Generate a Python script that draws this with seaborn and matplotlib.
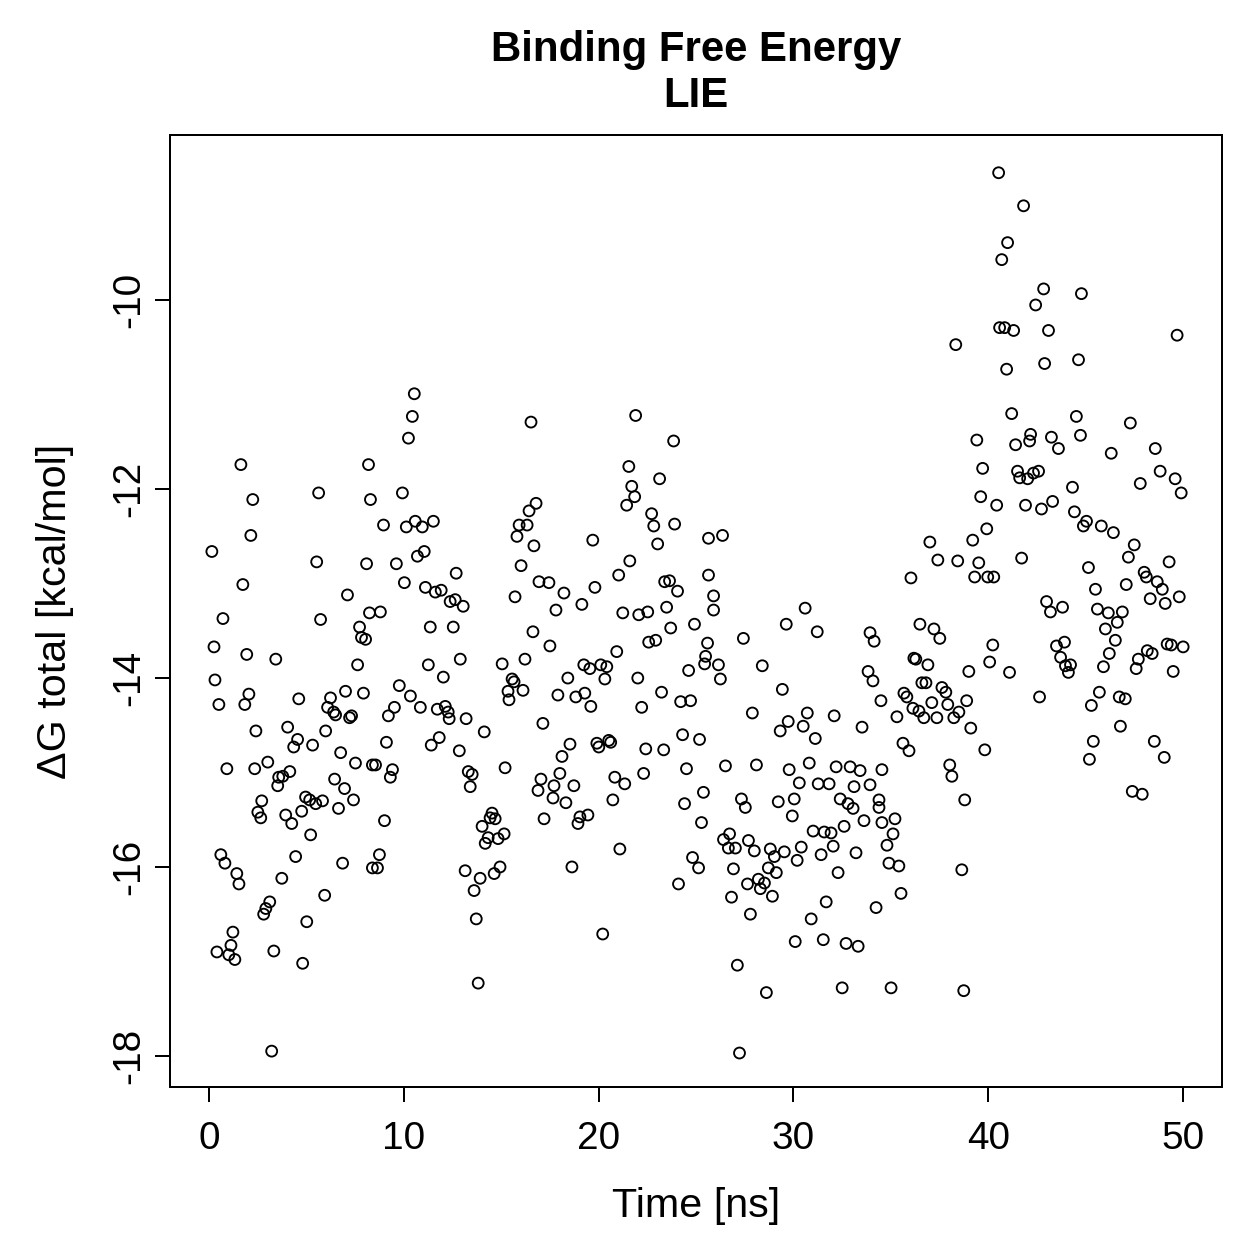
import matplotlib
matplotlib.use("Agg")
import matplotlib.pyplot as plt
import numpy as np
import pandas as pd
import seaborn as sns

# values (time in ns, dG in kcal/mol)
time_ns = [
    0.15, 0.26, 0.31, 0.51, 0.72, 1.64, 1.74, 1.84, 1.94, 2.05, 2.15, 2.25, 3.43, 4.61, 5.53, 5.63,
    5.73, 6.09, 6.24, 6.40, 6.50, 7.01, 7.11, 7.63, 7.73, 7.83, 7.93, 8.04, 8.09, 8.19, 8.24, 8.29,
    7.22, 7.32, 2.41, 4.04, 4.55, 4.35, 5.32, 5.99, 6.76, 7.52, 8.39, 0.92, 2.35, 3.02, 4.15, 3.79,
    3.58, 3.53, 6.45, 6.96, 7.42, 6.65, 2.71, 2.51, 2.66, 3.94, 4.25, 4.76, 4.96, 5.17, 5.48, 5.83,
    5.22, 0.61, 0.82, 4.45, 6.86, 8.39, 1.43, 1.54, 3.74, 5.94, 3.12, 2.92, 2.81, 5.02, 1.23, 1.13,
    0.41, 1.02, 1.33, 3.33, 4.81, 3.22,
    10.54, 10.44, 10.24, 9.93, 8.96, 10.13, 10.59, 10.95, 11.52, 10.70, 11.05, 9.62, 10.03, 11.11,
    11.62, 11.92, 12.38, 12.64, 13.05, 12.69, 8.80, 11.36, 12.54, 11.26, 12.90, 12.03, 9.77, 10.34,
    16.53, 16.79, 16.43, 15.92, 16.33, 15.81, 16.68, 16.02, 16.94, 15.71, 16.63, 15.05, 16.22, 15.56,
    15.66, 15.35, 16.12, 15.40,
    9.52, 9.21, 10.85, 11.72, 12.13, 12.28, 12.33, 13.20, 14.13, 17.14, 9.11, 11.41, 11.82, 12.85,
    8.55, 9.42, 9.31, 13.31, 13.51, 13.41, 15.20, 17.04, 16.89, 9.01, 14.53, 14.43, 14.69, 14.02,
    15.15, 14.33, 14.84, 14.18, 17.20, 8.75, 8.65, 13.15, 14.94, 14.64, 13.92, 13.61, 13.72, 13.82,
    21.90, 23.85, 21.55, 23.13, 21.70, 21.85, 21.44, 22.72, 22.83, 23.90, 23.03, 19.70, 21.60, 21.03,
    25.64, 25.64, 25.90, 25.90, 17.45, 18.22, 19.81, 19.14, 17.81, 21.24, 22.06, 22.52, 23.39, 23.64,
    24.05, 23.49, 23.70, 24.92, 17.50, 20.93, 22.57, 22.93, 25.59, 25.49, 25.44, 24.62, 19.24, 19.55,
    20.11, 20.42, 20.32, 18.42, 22.01, 17.91, 18.83, 19.29, 19.60, 22.21, 23.23, 24.21, 24.72,
    18.53, 18.12, 19.91, 20.01, 20.52, 20.62, 22.42, 23.34, 24.31, 25.18, 18.01, 17.71, 18.73, 17.66,
    18.32, 20.83, 21.34, 20.73, 22.31, 24.51, 25.38, 24.41, 25.28, 19.04, 19.45, 18.94, 21.09, 18.63,
    24.82, 25.13, 24.10, 20.21,
    26.36, 30.60, 29.63, 31.22, 27.43, 26.15, 26.25, 28.40, 29.43, 33.93, 34.14, 33.83, 34.08,
    34.49, 27.89, 29.73, 29.32, 30.71, 30.50, 31.12, 32.09, 33.52, 26.51, 28.10, 29.78, 30.81, 30.30,
    31.27, 31.83, 32.19, 32.91, 33.42, 33.11, 33.93, 34.54, 27.33, 27.53, 29.22, 30.04, 29.94, 32.40,
    32.80, 33.06, 32.60, 33.62, 34.39, 34.54, 26.72, 26.41, 26.66, 27.02, 27.69, 27.99, 28.81, 29.53,
    29.02, 30.40, 30.19, 31.01, 31.58, 31.93, 32.04, 31.42, 33.21, 26.92, 28.71, 29.12, 32.29, 27.64,
    28.20, 28.51, 28.30, 28.92, 26.82, 27.79, 31.68, 30.91, 34.24, 30.09, 31.53, 32.70, 33.32, 27.12,
    28.61, 32.50, 27.23,
    41.20, 39.41, 41.40, 42.17, 42.12, 43.24, 39.71, 41.50, 41.61, 42.02, 42.32, 42.58, 39.61, 40.43,
    41.91, 42.73, 43.30, 39.92, 39.20, 37.00, 37.41, 38.43, 39.51, 39.30, 39.97, 40.28, 41.71, 36.03,
    42.99, 43.19, 36.49, 37.21, 37.51, 40.23, 40.07, 41.09, 39.00, 36.18, 36.28, 36.90, 36.59, 36.80,
    37.62, 37.82, 35.67, 35.82, 37.10, 37.92, 38.89, 42.63, 36.13, 36.44, 38.49, 35.31, 36.69, 37.36,
    38.23,
    39.10, 35.62, 35.93, 39.82, 38.02, 38.13, 34.39, 38.79, 35.21, 35.11, 34.80, 34.90, 35.41, 38.64,
    35.52, 35.01, 38.74,
    40.53, 41.81, 40.99, 40.69, 42.84, 44.78, 42.43, 40.58, 40.84, 41.30, 43.09, 38.33, 49.69, 40.94,
    42.89, 44.63,
    44.52, 47.29, 43.60, 44.73, 46.31, 48.57, 48.82, 49.59, 49.90, 47.80, 44.32, 44.42, 45.04, 44.88,
    45.80, 46.42, 47.49, 47.19, 49.28, 45.14, 48.00, 48.11, 48.67, 48.93, 47.08, 45.50, 48.31, 49.08,
    49.80, 43.81, 45.60, 46.16, 46.88, 46.62, 46.01, 46.52, 46.21, 45.91, 43.50, 43.91, 43.71, 43.96,
    44.22, 44.11, 47.70, 47.59, 48.16, 48.41, 49.18, 49.39, 50.00, 49.49, 45.70, 45.29, 46.72, 47.03,
    46.78, 45.39, 45.19, 48.52, 49.03, 47.39, 47.90,
]

dg_total = [
    -12.66, -13.67, -14.02, -14.28, -13.37, -11.74, -13.01, -14.28, -13.75, -14.17, -12.49, -12.11,
    -13.80, -14.22, -12.77, -12.04, -13.38, -14.31, -14.21, -14.36, -14.39, -14.14, -13.12, -13.86,
    -13.46, -13.57, -14.16, -13.59, -12.79, -11.74, -13.31, -12.11,
    -14.42, -14.40, -14.56, -14.52, -14.65, -14.73, -14.71, -14.56, -14.79, -14.90, -14.92, -14.96,
    -14.96, -14.89, -14.99, -15.04, -15.05, -15.14, -15.07, -15.17, -15.29, -15.38, -15.30, -15.42,
    -15.48, -15.45, -15.54, -15.41, -15.26, -15.29, -15.33, -15.30, -15.66, -15.87, -15.96, -15.89,
    -15.96, -16.01, -16.07, -16.18, -16.12, -16.30, -16.37, -16.44, -16.50, -16.58, -16.69, -16.83,
    -16.90, -16.93, -16.98, -16.89, -17.02, -17.95,
    -10.99, -11.23, -11.46, -12.04, -12.38, -12.40, -12.34, -12.40, -12.34, -12.71, -12.66, -12.79,
    -12.99, -13.04, -13.09, -13.07, -13.19, -13.17, -13.24, -12.89, -13.30, -13.46, -13.46, -13.86,
    -13.80, -13.99, -14.08, -14.19, -11.29, -12.15, -12.23, -12.38, -12.38, -12.50, -12.60, -12.81,
    -12.98, -13.14, -13.51, -13.85, -13.80, -14.01, -14.04, -14.14, -14.13, -14.23,
    -14.31, -14.40, -14.31, -14.33, -14.30, -14.36, -14.43, -14.43, -14.57, -14.48, -14.68, -14.71,
    -14.63, -14.77, -14.92, -14.97, -15.05, -14.99, -15.02, -15.15, -14.95, -15.07, -15.19, -15.51,
    -15.43, -15.48, -15.49, -15.57, -15.65, -15.69, -15.70, -15.75, -15.49, -15.87, -16.01, -16.04,
    -16.00, -16.07, -16.12, -16.25, -16.55, -17.23,
    -11.22, -11.49, -11.76, -11.89, -11.97, -12.08, -12.17, -12.26, -12.39, -12.37, -12.58, -12.54,
    -12.76, -12.91, -12.52, -12.91, -13.13, -13.28, -12.99, -13.10, -13.04, -13.22, -13.28, -13.31,
    -13.33, -13.30, -12.98, -12.97, -13.08, -13.25, -13.47, -13.43, -13.66, -13.72, -13.62, -13.60,
    -13.63, -13.77, -13.85, -13.92, -13.86, -13.90, -13.86, -13.88, -14.01, -14.00, -14.00, -14.18,
    -14.20, -14.16, -14.30, -14.31, -14.15, -14.25, -14.24,
    -14.70, -14.83, -14.69, -14.73, -14.66, -14.68, -14.75, -14.76, -14.60, -14.65, -15.01, -15.14,
    -15.14, -15.27, -15.32, -15.05, -15.12, -15.29, -15.01, -14.96, -15.21, -15.33, -15.53, -15.47,
    -15.45, -15.54, -15.81, -16.00, -15.90, -16.01, -16.18, -16.71,
    -12.49, -13.26, -13.43, -13.51, -13.58, -13.86, -14.01, -13.87, -14.12, -13.52, -13.61, -13.93,
    -14.03,
    -14.24, -14.37, -14.46, -14.56, -14.37, -14.51, -14.64, -14.40, -14.52, -14.93, -14.92, -14.97,
    -14.90, -15.11, -15.12, -15.12, -14.94, -14.94, -14.98, -15.15, -15.13, -14.97, -15.28, -15.37,
    -15.31, -15.28, -15.46, -15.28, -15.33, -15.38, -15.57, -15.51, -15.37, -15.53, -15.65, -15.71,
    -15.80, -15.80, -15.72, -15.83, -15.81, -15.84, -15.89, -15.79, -15.93, -15.62, -15.63, -15.64,
    -15.78, -15.87, -15.85, -16.02, -16.01, -16.06, -16.06, -16.18, -16.13, -16.17, -16.23, -16.31,
    -16.32, -16.50, -16.37, -16.55, -16.43, -16.79, -16.77, -16.81, -16.84, -17.04, -17.33, -17.28,
    -17.97,
    -11.20, -11.48, -11.53, -11.42, -11.49, -11.45, -11.78, -11.81, -11.88, -11.89, -11.83, -11.81,
    -12.08, -12.17, -12.17, -12.21, -12.13, -12.42, -12.54, -12.56, -12.75, -12.76, -12.78, -12.93,
    -12.93, -12.93, -12.73, -12.94, -13.19, -13.30, -13.43, -13.48, -13.58, -13.65, -13.83, -13.94,
    -13.93, -13.79, -13.80, -13.86, -14.05, -14.05, -14.10, -14.15, -14.16, -14.20, -14.26, -14.28,
    -14.24, -14.20, -14.32, -14.35, -14.36, -14.41, -14.42, -14.42, -14.42,
    -14.53, -14.69, -14.77, -14.76, -14.92, -15.04, -15.29, -15.29, -15.49, -15.65, -15.77, -15.96,
    -15.99, -16.03, -16.28, -17.28, -17.31,
    -8.65, -9.00, -9.39, -9.57, -9.88, -9.93, -10.05, -10.29, -10.29, -10.32, -10.32, -10.47,
    -10.37, -10.73, -10.67, -10.63,
    -11.23, -11.30, -11.57, -11.43, -11.62, -11.57, -11.81, -11.89, -12.04, -11.94, -11.98, -12.24,
    -12.34, -12.39, -12.39, -12.46, -12.59, -12.72, -12.77, -12.83, -12.88, -12.93, -12.98, -13.06,
    -13.01, -13.06, -13.16, -13.21, -13.14, -13.25, -13.27, -13.31, -13.30, -13.41, -13.48, -13.60,
    -13.74, -13.88, -13.66, -13.62, -13.78, -13.87, -13.86, -13.94, -13.80, -13.90, -13.71, -13.74,
    -13.64, -13.65, -13.67, -13.93, -14.15, -14.29, -14.20, -14.22, -14.51, -14.67, -14.86, -14.67,
    -14.84, -15.20, -15.23,
]

x_ticks = [0, 10, 20, 30, 40, 50]
y_ticks = [-18, -16, -14, -12, -10]

df = pd.DataFrame({"time": time_ns, "dg": dg_total})

sns.set_style("white")
plt.rcParams["font.family"] = ["Liberation Sans", "DejaVu Sans"]
plt.rcParams["text.color"] = "black"
plt.rcParams["axes.labelcolor"] = "black"
plt.rcParams["xtick.color"] = "black"
plt.rcParams["ytick.color"] = "black"

fig = plt.figure(figsize=(1259 / 180, 1259 / 180), dpi=180)
ax = fig.add_axes([0.135, 0.1366, 0.8357, 0.7562])

sns.scatterplot(data=df, x="time", y="dg", ax=ax, s=19, marker="o",
                facecolor="none", edgecolor="black", linewidth=0.75)

ax.set_xlim(-2, 52)
ax.set_ylim(-18.33, -8.25)
ax.set_xticks(x_ticks)
ax.set_yticks(y_ticks)
ax.set_yticklabels([str(v) for v in y_ticks], rotation=90, va="center")
ax.tick_params(axis="both", direction="out", length=6, width=0.8,
               labelsize=15.5, bottom=True, left=True)
ax.tick_params(axis="x", pad=7.5)
ax.tick_params(axis="y", pad=3)
for s in ax.spines.values():
    s.set_color("black")
    s.set_linewidth(0.8)

ax.set_xlabel("Time [ns]", fontsize=16.5, labelpad=12)
ax.set_ylabel("ΔG total [kcal/mol]", fontsize=16.5, labelpad=15)
ax.set_title("Binding Free Energy\nLIE", fontsize=16.8, fontweight="bold", pad=11,
             linespacing=1.2)

fig.savefig("out.png", dpi=180)
